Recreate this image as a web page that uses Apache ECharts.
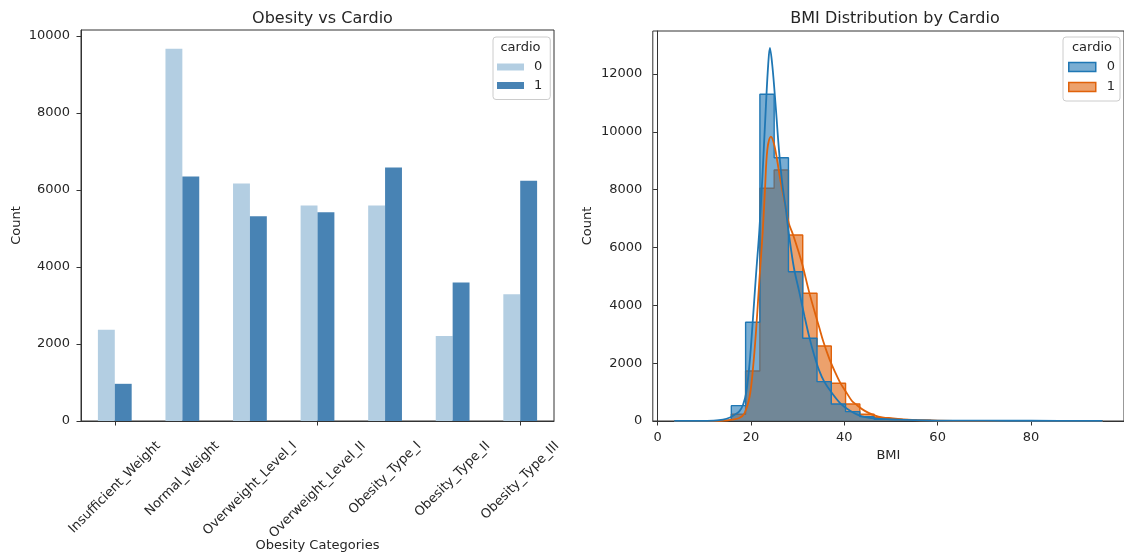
<!DOCTYPE html>
<html>
<head>
<meta charset="utf-8">
<script src="https://cdn.jsdelivr.net/npm/echarts@6/dist/echarts.min.js"></script>
<style>
  html, body { margin: 0; padding: 0; background: #ffffff; }
  #chart { width: 1124px; height: 557px; }
</style>
</head>
<body>
<div id="chart"></div>
<script>
// ---- Left panel: obesity category counts split by cardio ----
const categories = ['Insufficient_Weight', 'Normal_Weight', 'Overweight_Level_I', 'Overweight_Level_II',
                    'Obesity_Type_I', 'Obesity_Type_II', 'Obesity_Type_III'];
const cardio0Counts = [2371, 9672, 6172, 5595, 5595, 2207, 3293];
const cardio1Counts = [966, 6353, 5319, 5422, 6586, 3595, 6241];
const countTicks = [0, 2000, 4000, 6000, 8000, 10000];

// ---- Right panel: BMI histogram (30 bins) with KDE curves ----
const bmiBinEdges = [3.55, 6.61, 9.67, 12.73, 15.79, 18.85, 21.91, 24.97, 28.03, 31.09, 34.15,
                     37.21, 40.27, 43.33, 46.39, 49.45, 52.51, 55.57, 58.63, 61.69, 64.75,
                     67.81, 70.87, 73.93, 76.99, 80.05, 83.11, 86.17, 89.23, 92.29, 95.35];
const bmiHist0 = [5, 3, 8, 40, 530, 3413, 11298, 9106, 5163, 2860, 1360, 588, 323, 150, 60,
                  40, 25, 15, 10, 6, 4, 3, 2, 2, 1, 1, 1, 1, 1, 1];
const bmiHist1 = [2, 2, 4, 20, 232, 1729, 8047, 8680, 6432, 4416, 2594, 1303, 588, 231, 115,
                  60, 35, 20, 12, 8, 5, 3, 2, 1, 1, 1, 1, 0, 0, 1];
const bmiKde0 = [[3.55, 5], [8, 6], [12, 15], [14, 45], [15.5, 120], [16.5, 220], [17.5, 330],
                 [18.3, 560], [19.0, 1000], [19.7, 1990], [20.4, 3490], [21.1, 5100], [21.8, 6600],
                 [22.5, 8600], [23.2, 10900], [23.7, 12350], [24.05, 12900], [24.6, 12250],
                 [25.3, 10870], [26.0, 9370], [26.7, 8220], [27.4, 7410], [28.1, 6500], [29.2, 5300],
                 [30.3, 4500], [31.5, 3600], [32.5, 2900], [33.5, 2300], [34.6, 1750], [35.7, 1360],
                 [37.2, 1000], [39.2, 600], [41.0, 380], [43.8, 160], [48, 70], [55, 30], [60, 15],
                 [70, 10], [80, 8], [95.35, 5]];
const bmiKde1 = [[3.55, 2], [10, 3], [14, 15], [16, 50], [17.5, 104], [18.6, 266], [19.7, 840],
                 [20.4, 1764], [21.1, 3147], [21.8, 4876], [22.5, 6500], [23.0, 7988], [23.5, 9372],
                 [24.25, 9832], [24.9, 9603], [25.6, 9026], [26.3, 8334], [27.4, 7411], [28.1, 6837],
                 [29.0, 6450], [30.3, 5800], [31.1, 5350], [32.4, 4500], [33.6, 3800], [34.6, 3250],
                 [35.5, 2750], [36.8, 2150], [38.0, 1700], [39.2, 1300], [40.2, 1050], [41.6, 700],
                 [42.3, 600], [44.4, 350], [47.3, 149], [51.5, 58], [60, 15], [70, 5], [95.35, 2]];
const bmiTicks = [0, 20, 40, 60, 80];
const bmiCountTicks = [0, 2000, 4000, 6000, 8000, 10000, 12000];

const FONT = 'DejaVu Sans';
const TEXT = '#262626';
const SPINE = '#333333';
const LIGHT_BLUE = '#b3cee2';
const STEEL_BLUE = '#4883b4';
const BLUE = '#1f77b4';
const ORANGE = '#e0620a';

// step outline: each bin's left edge carries its count, the closing edge repeats the last count
function stepData(edges, counts) {
  return edges.map((e, i) => [e, counts[Math.min(i, counts.length - 1)]]);
}
const plainNumber = function (v) { return String(v); };

const axisLineStyle = { show: true, lineStyle: { color: SPINE, width: 1 } };
const tickLabel = { color: TEXT, fontFamily: FONT, fontSize: 13, formatter: plainNumber };

const chart = echarts.init(document.getElementById('chart'), null, { renderer: 'canvas' });

const option = {
  animation: false,
  backgroundColor: '#ffffff',
  textStyle: { fontFamily: FONT },
  title: [
    { text: 'Obesity vs Cardio', left: 317.5, top: 6, textAlign: 'center',
      textStyle: { fontFamily: FONT, fontSize: 16, fontWeight: 'normal', color: TEXT } },
    { text: 'BMI Distribution by Cardio', left: 890, top: 6, textAlign: 'center',
      textStyle: { fontFamily: FONT, fontSize: 16, fontWeight: 'normal', color: TEXT } }
  ],
  grid: [
    { left: 81, top: 30, width: 473, height: 391, show: true, borderColor: SPINE, borderWidth: 1,
      backgroundColor: 'transparent' },
    { left: 652.8, top: 31, width: 474.6, height: 390, show: true, borderColor: SPINE, borderWidth: 1,
      backgroundColor: 'transparent' }
  ],
  xAxis: [
    { type: 'category', gridIndex: 0, data: categories,
      axisLine: axisLineStyle,
      axisTick: { show: true, alignWithLabel: true, length: 4.5, lineStyle: { color: SPINE } },
      axisLabel: { show: false },
      name: 'Obesity Categories', nameLocation: 'middle', nameGap: 118,
      nameTextStyle: { fontFamily: FONT, fontSize: 13, color: TEXT } },
    { type: 'value', gridIndex: 1, min: -1.04, max: 99.94,
      axisLine: axisLineStyle,
      axisTick: { show: true, length: 4.5, lineStyle: { color: SPINE }, customValues: bmiTicks },
      axisLabel: Object.assign({ margin: 10, customValues: bmiTicks }, tickLabel),
      splitLine: { show: false },
      name: 'BMI', nameLocation: 'middle', nameGap: 28,
      nameTextStyle: { fontFamily: FONT, fontSize: 13, color: TEXT } }
  ],
  yAxis: [
    { type: 'value', gridIndex: 0, min: 0, max: 10156,
      axisLine: axisLineStyle,
      axisTick: { show: true, length: 4.5, lineStyle: { color: SPINE }, customValues: countTicks },
      axisLabel: Object.assign({ margin: 11, customValues: countTicks }, tickLabel),
      splitLine: { show: false },
      name: 'Count', nameLocation: 'middle', nameGap: 58,
      nameTextStyle: { fontFamily: FONT, fontSize: 13, color: TEXT } },
    { type: 'value', gridIndex: 1, min: 0, max: 13487,
      axisLine: axisLineStyle,
      axisTick: { show: true, length: 4.5, lineStyle: { color: SPINE }, customValues: bmiCountTicks },
      axisLabel: Object.assign({ margin: 10.5, customValues: bmiCountTicks }, tickLabel),
      splitLine: { show: false },
      name: 'Count', nameLocation: 'middle', nameGap: 59,
      nameTextStyle: { fontFamily: FONT, fontSize: 13, color: TEXT } }
  ],
  legend: [
    { orient: 'vertical', left: 493, top: 37, data: [
        { name: '0', icon: 'rect', itemStyle: { color: LIGHT_BLUE, borderWidth: 0 } },
        { name: '1', icon: 'rect', itemStyle: { color: STEEL_BLUE, borderWidth: 0 } } ],
      itemWidth: 27, itemHeight: 7, itemGap: 4.5,
      padding: [23, 8, 7, 4],
      backgroundColor: 'rgba(255,255,255,0.8)', borderColor: '#cccccc', borderWidth: 1, borderRadius: 3,
      textStyle: { fontFamily: FONT, fontSize: 13, color: TEXT, lineHeight: 14, padding: [0, 0, 0, 5] },
      selectedMode: false },
    { orient: 'vertical', left: 1063, top: 37, data: [
        { name: '0', icon: 'rect', itemStyle: { color: 'rgba(31,119,180,0.6)', borderColor: BLUE, borderWidth: 1.5 } },
        { name: '1', icon: 'rect', itemStyle: { color: 'rgba(224,98,10,0.6)', borderColor: ORANGE, borderWidth: 1.5 } } ],
      itemWidth: 27, itemHeight: 9, itemGap: 6,
      padding: [23, 5, 7, 5],
      backgroundColor: 'rgba(255,255,255,0.8)', borderColor: '#cccccc', borderWidth: 1, borderRadius: 3,
      textStyle: { fontFamily: FONT, fontSize: 13, color: TEXT, lineHeight: 14, padding: [0, 0, 0, 6] },
      selectedMode: false }
  ],
  series: [
    { name: '0', type: 'bar', xAxisIndex: 0, yAxisIndex: 0, data: cardio0Counts,
      itemStyle: { color: LIGHT_BLUE }, barCategoryGap: '50%', barGap: '0%' },
    { name: '1', type: 'bar', xAxisIndex: 0, yAxisIndex: 0, data: cardio1Counts,
      itemStyle: { color: STEEL_BLUE }, barCategoryGap: '50%', barGap: '0%' },
    // cardio = 1 histogram sits underneath, cardio = 0 drawn over it
    { name: '1', type: 'line', xAxisIndex: 1, yAxisIndex: 1, step: 'end', symbol: 'none',
      data: stepData(bmiBinEdges, bmiHist1),
      lineStyle: { color: ORANGE, width: 1.4 },
      areaStyle: { color: ORANGE, opacity: 0.6 }, z: 2 },
    { name: '0', type: 'line', xAxisIndex: 1, yAxisIndex: 1, step: 'end', symbol: 'none',
      data: stepData(bmiBinEdges, bmiHist0),
      lineStyle: { color: BLUE, width: 1.4 },
      areaStyle: { color: BLUE, opacity: 0.6 }, z: 3 },
    { name: 'kde1', type: 'line', xAxisIndex: 1, yAxisIndex: 1, symbol: 'none', smooth: 0.35,
      data: bmiKde1, lineStyle: { color: ORANGE, width: 1.8 }, z: 4 },
    { name: 'kde0', type: 'line', xAxisIndex: 1, yAxisIndex: 1, symbol: 'none', smooth: 0.35,
      data: bmiKde0, lineStyle: { color: BLUE, width: 1.8 }, z: 5 }
  ]
};

chart.setOption(option);

// Rotated category labels: centred under each tick, top of the rotated box just below the axis
const measure = document.createElement('canvas').getContext('2d');
measure.font = '13px "' + FONT + '"';
const graphics = [];
categories.forEach(function (cat) {
  const p = chart.convertToPixel({ xAxisIndex: 0, yAxisIndex: 0 }, [cat, 0]);
  const w = measure.measureText(cat).width;
  const half = (w + 15.2) * Math.SQRT1_2 / 2;
  graphics.push({
    type: 'text', x: p[0], y: p[1] + 17.5 + half, rotation: Math.PI / 4, silent: true,
    style: { text: cat, font: '13px "' + FONT + '"', fill: TEXT,
             align: 'center', verticalAlign: 'middle', textAlign: 'center', textVerticalAlign: 'middle' }
  });
});
// legend titles
[[520.5, 48], [1092, 48]].forEach(function (pos) {
  graphics.push({
    type: 'text', x: pos[0], y: pos[1], silent: true, z: 100,
    style: { text: 'cardio', font: '13px "' + FONT + '"', fill: TEXT,
             align: 'center', verticalAlign: 'middle', textAlign: 'center', textVerticalAlign: 'middle' }
  });
});
chart.setOption({ graphic: graphics });
</script>
</body>
</html>
